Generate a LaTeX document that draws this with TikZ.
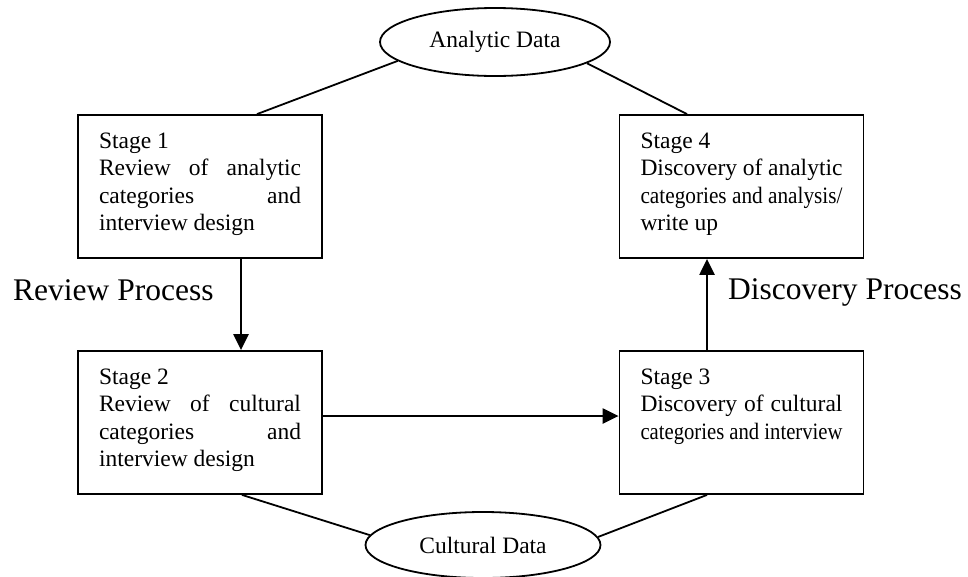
\documentclass[tikz,border=0pt]{standalone}
\usepackage{fontspec}
\setmainfont{Liberation Serif}
\usetikzlibrary{arrows.meta, positioning, calc, shapes.geometric}
\hyphenpenalty=10000
\tolerance=10000
% squeeze a line into the box width
\newcommand{\fitline}[1]{\resizebox{\linewidth}{\height}{#1}}

\begin{document}
\begin{tikzpicture}[x=1pt, y=-1pt, >={Triangle[length=16pt, width=15pt]},
  stagebox/.style={draw, line width=1.8pt, text width=202pt, inner xsep=21pt, inner ysep=17pt,
    text height=16pt, text depth=93pt, align=justify, font=\fontsize{23.5}{27.6}\selectfont},
  datanode/.style={draw, ellipse, line width=1.8pt, inner sep=0pt, minimum width=230pt,
    minimum height=68pt, font=\fontsize{23.5}{27.6}\selectfont},
  proclabel/.style={anchor=base west, inner sep=0pt, font=\fontsize{31.5}{36}\selectfont},
  flow/.style={->, line width=2.3pt},
  link/.style={line width=1.8pt}]
  \useasboundingbox (0,0) rectangle (968,576);

  \node[datanode] (analytic) at (495,42) {Analytic Data};
  \node[datanode, minimum width=235pt, minimum height=66pt] (cultural) at (483,545) {Cultural Data};

  \node[stagebox] (stage1) at (200,186.5) {Stage 1\\Review of analytic\linebreak categories and\linebreak interview design};
  \node[stagebox] (stage4) at (741.5,186.5) {Stage 4\\Discovery of analytic\linebreak \fitline{categories and analysis/}\\write up};
  \node[stagebox] (stage2) at (200,422.5) {Stage 2\\Review of cultural\linebreak categories and\linebreak interview design};
  \node[stagebox] (stage3) at (741.5,422.5) {Stage 3\\Discovery of cultural\linebreak \fitline{categories and interview}};

  \node[proclabel] (reviewlabel) at (13,300) {Review Process};
  \node[proclabel] (discoverylabel) at (728,299) {Discovery Process};

  % links to the data
  \draw[link] ([xshift=57pt]stage1.north) -- (analytic.191.5);
  \draw[link] ([xshift=-54.5pt]stage4.north) -- (analytic.347.5);
  \draw[link] ([xshift=42pt]stage2.south) -- (cultural.175.8);
  \draw[link] ([xshift=-34.5pt]stage3.south) -- (cultural.4.7);

  % process arrows
  \draw[flow] ([xshift=41pt]stage1.south) -- ([xshift=41pt]stage2.north);
  \draw[flow] ([yshift=6.5pt]stage2.east) -- ([yshift=6.5pt]stage3.west);
  \draw[flow] ([xshift=-34.5pt]stage3.north) -- ([xshift=-34.5pt]stage4.south);
\end{tikzpicture}
\end{document}
